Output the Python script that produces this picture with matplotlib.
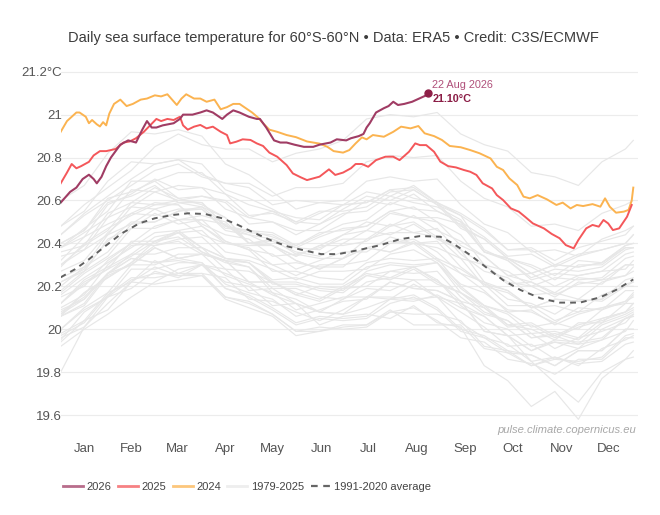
import matplotlib
matplotlib.use('Agg')
import matplotlib.pyplot as plt
from matplotlib.lines import Line2D

plt.rcParams['font.family'] = ['Liberation Sans', 'DejaVu Sans']

# ---------------- data ----------------
month_labels = ['Jan', 'Feb', 'Mar', 'Apr', 'May', 'Jun', 'Jul', 'Aug', 'Sep', 'Oct', 'Nov', 'Dec']
month_mid_days = [15, 45, 74, 105, 135, 166, 196, 227, 258, 288, 319, 349]
y_ticks = [19.6, 19.8, 20.0, 20.2, 20.4, 20.6, 20.8, 21.0, 21.2]
y_tick_labels = ['19.6', '19.8', '20', '20.2', '20.4', '20.6', '20.8', '21', '21.2°C']

# (day of year, °C)
sst_2026 = [(0, 20.59), (6, 20.64), (10, 20.66), (14, 20.70), (18, 20.72), (21, 20.70), (23, 20.68), (26, 20.71),
            (29, 20.76), (32, 20.80), (38, 20.86), (43, 20.88), (48, 20.87), (52, 20.93), (55, 20.97), (58, 20.94),
            (61, 20.94), (65, 20.95), (72, 20.96), (76, 20.98), (78, 21.00), (84, 21.00), (89, 21.01), (93, 21.02),
            (97, 21.01), (103, 20.98), (106, 21.00), (110, 21.02), (114, 21.01), (120, 20.99), (125, 20.98),
            (127, 20.98), (131, 20.94), (136, 20.88), (140, 20.87), (144, 20.87), (149, 20.86), (155, 20.85),
            (161, 20.85), (165, 20.86), (172, 20.87), (176, 20.885), (182, 20.88), (185, 20.89), (190, 20.90),
            (193, 20.91), (195, 20.94), (197, 20.96), (201, 21.01), (206, 21.03), (209, 21.04), (212, 21.06),
            (215, 21.045), (219, 21.05), (224, 21.06), (227, 21.07), (230, 21.08), (233, 21.09), (234, 21.10)]

sst_2025 = [(0, 20.68), (4, 20.73), (7, 20.77), (10, 20.75), (13, 20.76), (18, 20.78), (21, 20.81), (25, 20.83),
            (29, 20.83), (35, 20.84), (40, 20.87), (44, 20.875), (48, 20.89), (53, 20.92), (57, 20.95), (61, 20.98),
            (64, 20.97), (68, 20.98), (72, 20.975), (76, 20.99), (78, 20.95), (81, 20.93), (85, 20.944),
            (89, 20.952), (93, 20.936), (97, 20.944), (102, 20.92), (106, 20.905), (108, 20.866), (112, 20.874),
            (116, 20.885), (121, 20.882), (125, 20.866), (129, 20.854), (133, 20.823), (138, 20.804),
            (144, 20.765), (148, 20.726), (153, 20.708), (157, 20.695), (161, 20.703), (165, 20.711),
            (171, 20.745), (175, 20.719), (180, 20.73), (185, 20.75), (188, 20.77), (192, 20.77), (196, 20.757),
            (201, 20.788), (207, 20.804), (212, 20.804), (216, 20.788), (222, 20.827), (226, 20.866),
            (229, 20.858), (233, 20.858), (238, 20.827), (242, 20.781), (247, 20.76), (252, 20.754),
            (257, 20.742), (261, 20.734), (265, 20.719), (269, 20.68), (275, 20.656), (278, 20.625),
            (282, 20.602), (287, 20.563), (292, 20.548), (296, 20.524), (301, 20.493), (308, 20.47),
            (313, 20.444), (318, 20.424), (322, 20.392), (327, 20.377), (330, 20.416), (335, 20.47),
            (339, 20.486), (343, 20.478), (346, 20.509), (349, 20.493), (352, 20.462), (356, 20.47),
            (361, 20.524), (364, 20.579)]

sst_2024 = [(0, 20.92), (4, 20.97), (7, 20.99), (10, 21.01), (12, 21.01), (16, 20.99), (18, 20.96), (20, 20.975),
            (23, 20.955), (25, 20.945), (27, 20.965), (29, 20.95), (31, 21.005), (34, 21.05), (38, 21.07),
            (42, 21.04), (46, 21.05), (51, 21.07), (55, 21.075), (60, 21.09), (64, 21.085), (68, 21.095),
            (71, 21.07), (74, 21.045), (77, 21.075), (80, 21.095), (85, 21.075), (89, 21.075), (93, 21.06),
            (98, 21.07), (102, 21.025), (106, 21.035), (110, 21.05), (114, 21.05), (118, 21.03), (122, 21.01),
            (126, 20.985), (129, 20.96), (133, 20.93), (138, 20.92), (144, 20.905), (150, 20.895), (157, 20.875),
            (161, 20.87), (165, 20.865), (170, 20.85), (174, 20.83), (180, 20.823), (184, 20.835), (188, 20.866),
            (192, 20.894), (195, 20.885), (199, 20.905), (206, 20.897), (212, 20.92), (217, 20.944),
            (223, 20.936), (228, 20.947), (232, 20.913), (238, 20.90), (243, 20.882), (248, 20.854),
            (255, 20.848), (261, 20.835), (267, 20.82), (274, 20.796), (278, 20.757), (282, 20.742),
            (286, 20.703), (291, 20.672), (295, 20.618), (299, 20.61), (304, 20.625), (310, 20.605),
            (316, 20.579), (320, 20.59), (325, 20.563), (329, 20.579), (333, 20.574), (339, 20.583),
            (344, 20.571), (347, 20.61), (350, 20.571), (354, 20.543), (359, 20.548), (362, 20.556),
            (364, 20.60), (365, 20.66)]

avg_1991_2020 = [(0, 20.242), (9, 20.279), (18, 20.326), (28, 20.385), (39, 20.447), (50, 20.493), (60, 20.517),
                 (71, 20.532), (81, 20.54), (92, 20.537), (103, 20.517), (113, 20.486), (124, 20.447),
                 (135, 20.411), (145, 20.385), (156, 20.366), (166, 20.35), (177, 20.35), (190, 20.369),
                 (204, 20.392), (216, 20.419), (229, 20.434), (242, 20.431), (250, 20.40), (261, 20.346),
                 (272, 20.284), (282, 20.229), (293, 20.183), (306, 20.144), (318, 20.124), (331, 20.124),
                 (344, 20.149), (354, 20.183), (365, 20.232)]

# earlier years (1979-2023), sampled every 15 days
gray_days = [0, 15, 30, 45, 60, 75, 90, 105, 120, 135, 150, 165, 180, 195, 210, 225, 240, 255, 270, 285,
             300, 315, 330, 345, 360, 365]
sst_1979 = [19.80, 20.01, 20.12, 20.22, 20.32, 20.26, 20.30, 20.22, 20.20, 20.11, 20.12, 20.02, 20.06, 20.07, 20.05, 20.11, 20.03, 20.01, 19.83, 19.76, 19.64, 19.71, 19.58, 19.77, 19.86, 19.87]
sst_1980 = [19.92, 20.00, 20.07, 20.15, 20.22, 20.28, 20.30, 20.26, 20.22, 20.16, 20.12, 20.08, 20.07, 20.10, 20.14, 20.13, 20.16, 20.10, 20.06, 19.97, 19.85, 19.75, 19.66, 19.80, 19.86, 19.90]
sst_1981 = [19.95, 20.08, 20.15, 20.23, 20.26, 20.25, 20.25, 20.15, 20.12, 20.07, 19.99, 19.99, 20.02, 20.02, 20.09, 20.02, 20.02, 20.02, 19.91, 19.89, 19.83, 19.87, 19.84, 19.85, 19.93, 19.94]
sst_1982 = [19.96, 20.01, 20.15, 20.19, 20.27, 20.24, 20.30, 20.28, 20.18, 20.19, 20.12, 20.08, 20.14, 20.19, 20.18, 20.23, 20.15, 20.08, 20.01, 19.92, 19.93, 19.86, 19.91, 19.95, 19.99, 20.04]
sst_1983 = [20.06, 20.17, 20.24, 20.31, 20.41, 20.45, 20.36, 20.32, 20.29, 20.17, 20.14, 20.08, 20.07, 20.15, 20.15, 20.14, 20.15, 20.03, 19.96, 19.93, 19.85, 19.87, 19.83, 19.91, 19.95, 19.97]
sst_1984 = [19.97, 20.03, 20.16, 20.24, 20.24, 20.26, 20.26, 20.15, 20.13, 20.07, 19.99, 20.01, 20.00, 20.01, 20.08, 20.10, 20.04, 19.96, 19.94, 19.86, 19.84, 19.79, 19.86, 19.86, 19.96, 19.96]
sst_1985 = [19.94, 20.04, 20.09, 20.22, 20.21, 20.23, 20.25, 20.14, 20.10, 20.06, 19.97, 19.99, 20.01, 20.02, 20.08, 20.07, 20.07, 20.04, 19.92, 19.90, 19.83, 19.86, 19.85, 19.87, 19.97, 19.98]
sst_1986 = [19.98, 20.04, 20.17, 20.22, 20.29, 20.25, 20.26, 20.24, 20.14, 20.13, 20.08, 20.04, 20.09, 20.15, 20.14, 20.21, 20.15, 20.12, 20.06, 19.97, 19.98, 19.91, 19.96, 19.99, 20.03, 20.07]
sst_1987 = [20.07, 20.17, 20.24, 20.31, 20.39, 20.41, 20.35, 20.32, 20.31, 20.23, 20.24, 20.21, 20.21, 20.29, 20.31, 20.30, 20.31, 20.17, 20.08, 20.04, 19.96, 19.97, 19.93, 20.02, 20.06, 20.08]
sst_1988 = [20.08, 20.15, 20.26, 20.33, 20.31, 20.32, 20.30, 20.19, 20.15, 20.09, 20.02, 20.05, 20.04, 20.05, 20.12, 20.15, 20.09, 19.99, 19.96, 19.89, 19.88, 19.83, 19.90, 19.90, 20.00, 20.00]
sst_1989 = [20.00, 20.09, 20.15, 20.28, 20.28, 20.31, 20.31, 20.21, 20.17, 20.14, 20.06, 20.09, 20.13, 20.14, 20.22, 20.19, 20.18, 20.13, 19.99, 19.97, 19.90, 19.94, 19.93, 19.95, 20.05, 20.06]
sst_1990 = [20.06, 20.12, 20.26, 20.30, 20.38, 20.33, 20.35, 20.32, 20.22, 20.22, 20.17, 20.14, 20.20, 20.26, 20.24, 20.29, 20.22, 20.17, 20.11, 20.02, 20.03, 19.97, 20.02, 20.05, 20.08, 20.12]
sst_1991 = [20.12, 20.22, 20.28, 20.34, 20.41, 20.43, 20.36, 20.31, 20.29, 20.19, 20.19, 20.15, 20.14, 20.22, 20.24, 20.23, 20.23, 20.11, 20.03, 20.00, 19.92, 19.94, 19.91, 20.00, 20.05, 20.07]
sst_1992 = [20.07, 20.14, 20.26, 20.33, 20.31, 20.33, 20.31, 20.19, 20.16, 20.10, 20.03, 20.06, 20.05, 20.06, 20.14, 20.16, 20.10, 20.00, 19.97, 19.90, 19.88, 19.83, 19.90, 19.90, 20.00, 20.00]
sst_1993 = [20.00, 20.10, 20.17, 20.30, 20.30, 20.35, 20.35, 20.25, 20.21, 20.17, 20.09, 20.12, 20.15, 20.15, 20.22, 20.19, 20.18, 20.13, 19.99, 19.97, 19.90, 19.95, 19.94, 19.96, 20.05, 20.06]
sst_1994 = [20.06, 20.11, 20.25, 20.30, 20.38, 20.33, 20.35, 20.32, 20.22, 20.22, 20.16, 20.13, 20.19, 20.25, 20.23, 20.28, 20.21, 20.17, 20.10, 20.01, 20.02, 19.96, 20.01, 20.04, 20.08, 20.12]
sst_1995 = [20.12, 20.23, 20.29, 20.35, 20.43, 20.45, 20.38, 20.33, 20.31, 20.21, 20.21, 20.18, 20.17, 20.25, 20.27, 20.26, 20.27, 20.15, 20.07, 20.04, 19.96, 19.98, 19.95, 20.03, 20.07, 20.09]
sst_1996 = [20.09, 20.14, 20.26, 20.35, 20.35, 20.38, 20.38, 20.28, 20.27, 20.22, 20.16, 20.20, 20.19, 20.20, 20.27, 20.29, 20.23, 20.13, 20.10, 20.02, 20.00, 19.95, 20.03, 20.03, 20.12, 20.12]
sst_1997 = [20.12, 20.21, 20.28, 20.41, 20.41, 20.46, 20.48, 20.40, 20.39, 20.39, 20.34, 20.39, 20.44, 20.46, 20.54, 20.52, 20.52, 20.49, 20.36, 20.33, 20.26, 20.30, 20.29, 20.31, 20.39, 20.40]
sst_1998 = [20.40, 20.46, 20.59, 20.62, 20.67, 20.59, 20.57, 20.52, 20.40, 20.39, 20.32, 20.28, 20.33, 20.38, 20.36, 20.41, 20.33, 20.28, 20.21, 20.11, 20.11, 20.04, 20.08, 20.10, 20.12, 20.16]
sst_1999 = [20.16, 20.24, 20.31, 20.38, 20.45, 20.46, 20.38, 20.33, 20.31, 20.22, 20.22, 20.19, 20.18, 20.27, 20.30, 20.29, 20.31, 20.19, 20.11, 20.08, 20.01, 20.03, 20.00, 20.09, 20.13, 20.15]
sst_2000 = [20.15, 20.20, 20.32, 20.40, 20.39, 20.42, 20.43, 20.33, 20.32, 20.28, 20.23, 20.27, 20.27, 20.28, 20.35, 20.37, 20.31, 20.21, 20.17, 20.09, 20.08, 20.03, 20.10, 20.09, 20.18, 20.18]
sst_2001 = [20.18, 20.27, 20.34, 20.47, 20.47, 20.51, 20.51, 20.41, 20.37, 20.35, 20.28, 20.32, 20.36, 20.36, 20.43, 20.40, 20.38, 20.33, 20.20, 20.17, 20.10, 20.14, 20.13, 20.14, 20.23, 20.24]
sst_2002 = [20.24, 20.29, 20.44, 20.49, 20.56, 20.51, 20.53, 20.50, 20.40, 20.41, 20.36, 20.34, 20.40, 20.46, 20.44, 20.49, 20.42, 20.37, 20.30, 20.21, 20.22, 20.16, 20.21, 20.23, 20.25, 20.29]
sst_2003 = [20.29, 20.40, 20.47, 20.53, 20.58, 20.58, 20.49, 20.44, 20.42, 20.34, 20.35, 20.33, 20.33, 20.42, 20.45, 20.45, 20.47, 20.35, 20.27, 20.24, 20.16, 20.17, 20.14, 20.22, 20.25, 20.27]
sst_2004 = [20.27, 20.32, 20.45, 20.54, 20.53, 20.56, 20.56, 20.46, 20.44, 20.39, 20.34, 20.39, 20.39, 20.41, 20.48, 20.50, 20.43, 20.33, 20.30, 20.22, 20.20, 20.15, 20.22, 20.21, 20.30, 20.30]
sst_2005 = [20.30, 20.39, 20.46, 20.59, 20.58, 20.60, 20.59, 20.48, 20.44, 20.42, 20.35, 20.38, 20.42, 20.42, 20.49, 20.45, 20.43, 20.37, 20.22, 20.18, 20.10, 20.14, 20.13, 20.14, 20.21, 20.22]
sst_2006 = [20.22, 20.27, 20.42, 20.47, 20.54, 20.49, 20.51, 20.49, 20.40, 20.42, 20.38, 20.37, 20.44, 20.50, 20.48, 20.53, 20.46, 20.41, 20.34, 20.25, 20.26, 20.20, 20.25, 20.27, 20.28, 20.32]
sst_2007 = [20.32, 20.43, 20.49, 20.54, 20.59, 20.58, 20.48, 20.41, 20.37, 20.27, 20.27, 20.24, 20.23, 20.31, 20.33, 20.32, 20.33, 20.20, 20.11, 20.07, 19.98, 19.99, 19.96, 20.05, 20.08, 20.10]
sst_2008 = [20.10, 20.16, 20.30, 20.39, 20.40, 20.45, 20.46, 20.36, 20.34, 20.30, 20.25, 20.30, 20.30, 20.32, 20.40, 20.42, 20.36, 20.26, 20.22, 20.14, 20.12, 20.07, 20.14, 20.13, 20.20, 20.20]
sst_2009 = [20.20, 20.29, 20.36, 20.49, 20.50, 20.55, 20.57, 20.48, 20.46, 20.45, 20.39, 20.44, 20.49, 20.51, 20.59, 20.56, 20.55, 20.50, 20.36, 20.33, 20.26, 20.30, 20.29, 20.31, 20.39, 20.40]
sst_2010 = [20.40, 20.46, 20.61, 20.64, 20.69, 20.61, 20.58, 20.52, 20.40, 20.39, 20.32, 20.28, 20.33, 20.38, 20.36, 20.40, 20.32, 20.26, 20.18, 20.08, 20.09, 20.02, 20.07, 20.10, 20.13, 20.17]
sst_2011 = [20.17, 20.26, 20.33, 20.40, 20.48, 20.51, 20.44, 20.40, 20.38, 20.30, 20.31, 20.29, 20.29, 20.38, 20.41, 20.40, 20.41, 20.29, 20.21, 20.18, 20.10, 20.11, 20.08, 20.16, 20.20, 20.22]
sst_2012 = [20.22, 20.28, 20.41, 20.50, 20.50, 20.55, 20.56, 20.47, 20.46, 20.43, 20.39, 20.45, 20.46, 20.48, 20.55, 20.57, 20.50, 20.39, 20.34, 20.25, 20.22, 20.17, 20.24, 20.23, 20.30, 20.30]
sst_2013 = [20.30, 20.37, 20.44, 20.57, 20.56, 20.59, 20.59, 20.48, 20.45, 20.44, 20.38, 20.43, 20.47, 20.48, 20.55, 20.52, 20.50, 20.44, 20.30, 20.27, 20.20, 20.24, 20.23, 20.24, 20.33, 20.34]
sst_2014 = [20.34, 20.37, 20.52, 20.57, 20.64, 20.60, 20.62, 20.60, 20.52, 20.55, 20.52, 20.51, 20.58, 20.64, 20.62, 20.67, 20.59, 20.54, 20.47, 20.37, 20.37, 20.30, 20.35, 20.37, 20.40, 20.44]
sst_2015 = [20.44, 20.53, 20.60, 20.67, 20.74, 20.77, 20.71, 20.68, 20.68, 20.62, 20.66, 20.66, 20.68, 20.78, 20.81, 20.80, 20.81, 20.69, 20.61, 20.57, 20.48, 20.49, 20.46, 20.54, 20.58, 20.60]
sst_2016 = [20.60, 20.67, 20.82, 20.92, 20.91, 20.93, 20.90, 20.77, 20.72, 20.64, 20.56, 20.59, 20.58, 20.59, 20.65, 20.66, 20.59, 20.48, 20.42, 20.33, 20.29, 20.23, 20.30, 20.30, 20.38, 20.38]
sst_2017 = [20.38, 20.47, 20.55, 20.69, 20.69, 20.73, 20.73, 20.63, 20.58, 20.55, 20.49, 20.54, 20.58, 20.59, 20.65, 20.61, 20.59, 20.53, 20.37, 20.32, 20.23, 20.26, 20.25, 20.27, 20.35, 20.36]
sst_2018 = [20.36, 20.39, 20.54, 20.59, 20.66, 20.61, 20.62, 20.59, 20.49, 20.50, 20.46, 20.46, 20.53, 20.60, 20.58, 20.63, 20.55, 20.50, 20.43, 20.34, 20.35, 20.29, 20.34, 20.37, 20.40, 20.44]
sst_2019 = [20.44, 20.54, 20.62, 20.70, 20.77, 20.79, 20.72, 20.68, 20.66, 20.58, 20.60, 20.59, 20.60, 20.69, 20.71, 20.69, 20.70, 20.58, 20.49, 20.45, 20.36, 20.37, 20.34, 20.42, 20.46, 20.48]
sst_2020 = [20.48, 20.55, 20.69, 20.78, 20.77, 20.79, 20.77, 20.65, 20.61, 20.56, 20.50, 20.55, 20.55, 20.57, 20.64, 20.65, 20.58, 20.47, 20.42, 20.33, 20.30, 20.25, 20.32, 20.31, 20.38, 20.38]
sst_2021 = [20.38, 20.45, 20.52, 20.65, 20.64, 20.67, 20.66, 20.56, 20.52, 20.50, 20.44, 20.49, 20.54, 20.55, 20.62, 20.59, 20.57, 20.51, 20.36, 20.32, 20.24, 20.28, 20.27, 20.29, 20.37, 20.38]
sst_2022 = [20.38, 20.43, 20.58, 20.63, 20.70, 20.65, 20.66, 20.63, 20.53, 20.54, 20.50, 20.49, 20.56, 20.62, 20.60, 20.65, 20.58, 20.53, 20.46, 20.37, 20.38, 20.32, 20.38, 20.41, 20.44, 20.48]
sst_2023 = [20.48, 20.58, 20.66, 20.74, 20.85, 20.91, 20.86, 20.84, 20.84, 20.78, 20.82, 20.84, 20.88, 20.98, 21.00, 20.99, 21.01, 20.91, 20.86, 20.83, 20.73, 20.71, 20.67, 20.78, 20.84, 20.88]

gray_series = [sst_1979, sst_1980, sst_1981, sst_1982, sst_1983, sst_1984, sst_1985, sst_1986, sst_1987,
               sst_1988, sst_1989, sst_1990, sst_1991, sst_1992, sst_1993, sst_1994, sst_1995, sst_1996,
               sst_1997, sst_1998, sst_1999, sst_2000, sst_2001, sst_2002, sst_2003, sst_2004, sst_2005,
               sst_2006, sst_2007, sst_2008, sst_2009, sst_2010, sst_2011, sst_2012, sst_2013, sst_2014,
               sst_2015, sst_2016, sst_2017, sst_2018, sst_2019, sst_2020, sst_2021, sst_2022, sst_2023]

latest_day, latest_value = 234, 21.10

# ---------------- styles ----------------
C2026 = '#a03c64'
C2025 = '#f4575a'
C2024 = '#fbb350'
CGRAY = '#e7e7e7'
CAVG = '#606060'

fig = plt.figure(figsize=(6.6, 5.15), dpi=100)
ax = fig.add_axes([60.7 / 660, (515 - 436.5) / 515, (638 - 60.7) / 660, 375.5 / 515])
ax.set_xlim(0, 368)
ax.set_ylim(19.5, 21.25)

for s in gray_series:
    ax.plot(gray_days, s, color=CGRAY, lw=0.85, zorder=2, solid_joinstyle='round')


def xy(pairs):
    return [p[0] for p in pairs], [p[1] for p in pairs]


ax.plot(*xy(avg_1991_2020), color=CAVG, lw=1.4, ls=(0, (3, 2.6)), zorder=3)
ax.plot(*xy(sst_2024), color=C2024, lw=1.4, zorder=4)
ax.plot(*xy(sst_2025), color=C2025, lw=1.4, zorder=5)
ax.plot(*xy(sst_2026), color=C2026, lw=1.5, zorder=6)
ax.plot([latest_day], [latest_value], 'o', color='#8e1f47', ms=5, zorder=7)

ax.text(latest_day + 3, 21.138, '22 Aug 2026', color='#b0507a', fontsize=7.8, va='center', ha='left')
ax.text(latest_day + 3, 21.073, '21.10°C', color='#8a1c45', fontsize=7.8, fontweight='bold', va='center', ha='left')

ax.set_yticks(y_ticks)
ax.set_yticklabels(y_tick_labels)
ax.set_xticks(month_mid_days)
ax.set_xticklabels(month_labels)
ax.tick_params(axis='both', length=0, labelsize=9.5, labelcolor='#555555')
ax.tick_params(axis='y', pad=-1)
ax.tick_params(axis='x', pad=5)
ax.grid(axis='y', color='#ececec', lw=0.8, zorder=0)
ax.set_axisbelow(True)
for sp in ax.spines.values():
    sp.set_visible(False)

fig.text(333 / 660, 1 - 38 / 515,
         'Daily sea surface temperature for 60°S-60°N • Data: ERA5 • Credit: C3S/ECMWF',
         ha='center', va='center', fontsize=10.5, color='#3c3c3c')
fig.text(636 / 660, 1 - 430 / 515, 'pulse.climate.copernicus.eu', ha='right', va='center',
         fontsize=8.1, style='italic', color='#a8a8a8')

handles = [Line2D([], [], color=C2026, lw=2, alpha=0.75),
           Line2D([], [], color=C2025, lw=2, alpha=0.75),
           Line2D([], [], color=C2024, lw=2, alpha=0.75),
           Line2D([], [], color='#eeeeee', lw=2),
           Line2D([], [], color='#666666', lw=1.6, ls=(0, (3, 2.5)))]
labels = ['2026', '2025', '2024', '1979-2025', '1991-2020 average']
fig.legend(handles, labels, loc='center left', bbox_to_anchor=(63 / 660, 1 - 487 / 515), ncol=5,
           frameon=False, fontsize=8.0, handlelength=1.8, handletextpad=0.3, columnspacing=0.6,
           labelcolor='#444444', borderaxespad=0, borderpad=0)

fig.savefig('out.png', dpi=100)
